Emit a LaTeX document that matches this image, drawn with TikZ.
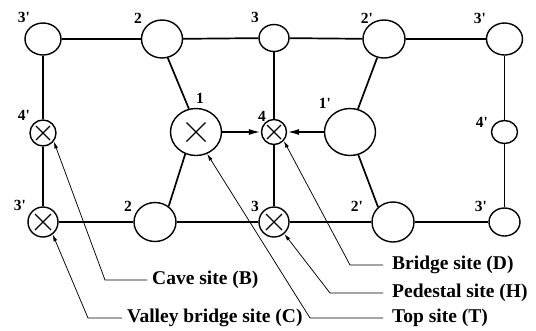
\documentclass[tikz,border=0pt]{standalone}
\usepackage{fontspec}
\setmainfont{Liberation Serif}
\usetikzlibrary{shapes.geometric,arrows.meta}
\begin{document}
\begin{tikzpicture}[x=1pt,y=-1pt,
  site/.style={draw,ellipse,line width=1.4pt,inner sep=0pt},
  sz/.style args={#1x#2}{minimum width=#1pt,minimum height=#2pt},
  cross/.style={path picture={
    \draw[line width=1.3pt]
      ([shift={(-#1pt,-#1pt)}]path picture bounding box.center) --
      ([shift={(#1pt,#1pt)}]path picture bounding box.center)
      ([shift={(-#1pt,#1pt)}]path picture bounding box.center) --
      ([shift={(#1pt,-#1pt)}]path picture bounding box.center);}},
  edge/.style={line width=1.7pt},
  push/.style={edge,-{Latex[length=12pt,width=6pt]}},
  leader/.style={line width=0.75pt,{Latex[length=7pt,width=3.8pt]}-},
  lab/.style={font=\bfseries\fontsize{15.5}{15.5}\selectfont,inner sep=0pt},
  call/.style={font=\bfseries\fontsize{19.5}{19.5}\selectfont,inner ysep=0pt,anchor=west},
]
\useasboundingbox (0,0) rectangle (536,330);

% sites: top row
\node[site,sz=36x32] (tlA) at (43,39) {};
\node[site,sz=41x38] (t2)  at (162,39) {};
\node[site,sz=30x27] (t3)  at (274,38) {};
\node[site,sz=42x38] (t2p) at (384,39) {};
\node[site,sz=36x32] (trA) at (504.5,39) {};
% middle row
\node[site,sz=26x26,cross=7]   (l4p) at (43,133) {};
\node[site,sz=51x47,cross=9.5] (n1)  at (196,132) {};
\node[site,sz=25x25,cross=7]   (n4)  at (274,132) {};
\node[site,sz=51x47]           (n1p) at (350,132) {};
\node[site,sz=26x23]           (r4p) at (504.5,132) {};
% bottom row
\node[site,sz=30x30,cross=8] (bl3p) at (43,222) {};
\node[site,sz=42x39]         (b2)   at (155,222) {};
\node[site,sz=30x30,cross=8] (b3)   at (274,222) {};
\node[site,sz=42x40]         (b2p)  at (393,222) {};
\node[site,sz=31x28]         (br3p) at (504.5,222) {};

% grid lines
\draw[edge] (tlA) -- (t2) -- (t3) -- (t2p) -- (trA);
\draw[edge] (bl3p) -- (b2) -- (b3) -- (b2p) -- (br3p);
\draw[edge] (tlA) -- (l4p) -- (bl3p);
\draw[edge] (t3) -- (n4) -- (b3);
\draw[edge] (trA) -- (r4p) -- (br3p);
\draw[edge] (t2.287) -- (n1.107);
\draw[edge] (n1.244) -- (b2.49);
\draw[edge] (t2p.250) -- (n1p.71);
\draw[edge] (n1p.290) -- (b2p.135);
\draw[push] (n1) -- (n4);
\draw[push] (n1p) -- (n4);

% site numbers
\node[lab] (x1) at (24,17.5)  {3\textquotesingle};
\node[lab] (x2) at (138,18)   {2};
\node[lab] (x3) at (255,17.5) {3};
\node[lab] (x4) at (367,18)   {2\textquotesingle};
\node[lab] (x5) at (480,18)   {3\textquotesingle};
\node[lab] (x6) at (24,115)   {4\textquotesingle};
\node[lab] (x7) at (200,98)   {1};
\node[lab] (x8) at (262,116)  {4};
\node[lab] (x9) at (325,103)  {1\textquotesingle};
\node[lab] (x10) at (482,122) {4\textquotesingle};
\node[lab] (x11) at (20,205)  {3\textquotesingle};
\node[lab] (x12) at (128,206) {2};
\node[lab] (x13) at (255,206) {3};
\node[lab] (x14) at (357,206) {2\textquotesingle};
\node[lab] (x15) at (481,206) {3\textquotesingle};

% callouts
\node[call,inner xsep=5pt] (lbB) at (147,280) {Cave site (B)};
\node[call,inner xsep=5pt] (lbC) at (122,318) {Valley bridge site (C)};
\node[call,inner xsep=9pt] (lbD) at (383,265) {Bridge site (D)};
\node[call,inner xsep=9pt] (lbH) at (383,293) {Pedestal site (H)};
\node[call,inner xsep=9pt] (lbT) at (383,318) {Top site (T)};
\coordinate (kB) at (105,280);
\coordinate (kC) at (88,318);
\coordinate (kD) at (350,265);
\coordinate (kH) at (330,293);
\coordinate (kT) at (310,318);
\draw[leader] (l4p.322) -- (kB) -- (lbB.west);
\draw[leader] (bl3p.308) -- (kC) -- (lbC.west);
\draw[leader] (n4.318) -- (kD) -- (lbD.west);
\draw[leader] (b3.311) -- (kH) -- (lbH.west);
\draw[leader] (n1.297) -- (kT) -- (lbT.west);
\end{tikzpicture}
\end{document}
